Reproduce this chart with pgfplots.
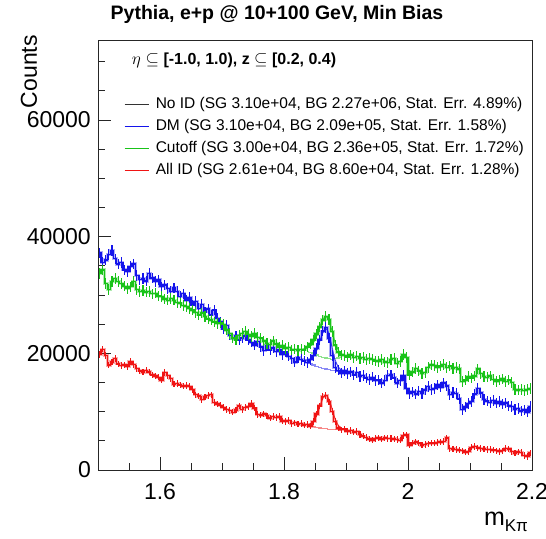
\documentclass[border=0pt]{standalone}
\usepackage{fontspec}
\setmainfont{Liberation Sans}
\usepackage{pgfplots}
\pgfplotsset{compat=1.18}
\usepackage{pgfplotstable}
\definecolor{rblue}{RGB}{20,20,235}
\definecolor{rgreen}{RGB}{25,195,25}
\definecolor{rred}{RGB}{240,20,20}

\pgfplotstableread{
x b g r
1.5025 37200 33700 19800
1.5075 35600 34300 20700
1.5125 36000 32000 19600
1.5175 36900 30900 18000
1.5225 37600 32300 18500
1.5275 36200 32800 19100
1.5325 35300 32300 18200
1.5375 35600 32000 17900
1.5425 34300 31500 18000
1.5475 34000 31100 17700
1.5525 34900 31400 18600
1.5575 35300 32300 18100
1.5625 33300 30900 17400
1.5675 32600 30600 17000
1.5725 32800 30800 16800
1.5775 32400 30500 17100
1.5825 33700 30600 16800
1.5875 32900 30200 16300
1.5925 32300 30300 16100
1.5975 32600 29800 15900
1.6025 31400 29700 15400
1.6075 31700 29300 16700
1.6125 31100 29100 16200
1.6175 30600 29400 15700
1.6225 31200 29100 14700
1.6275 30600 28700 14800
1.6325 29700 28600 14600
1.6375 30200 28200 14400
1.6425 29100 28000 14500
1.6475 29600 27700 14300
1.6525 28300 27400 13800
1.6575 28900 27000 12900
1.6625 27700 26600 12700
1.6675 28400 26900 12100
1.6725 27100 26300 12500
1.6775 27600 25900 12800
1.6825 26600 25700 12900
1.6875 27400 25400 11600
1.6925 26000 25100 11300
1.6975 25400 25200 11100
1.7025 24200 24900 10700
1.7075 24800 24000 10400
1.7125 23100 23400 10200
1.7175 22600 22600 9900
1.7225 23000 22300 10300
1.7275 22300 23100 11000
1.7325 22600 23400 10400
1.7375 23000 23700 10700
1.7425 22300 23200 10900
1.7475 21900 22900 11400
1.7525 21400 23400 10600
1.7575 22000 22700 9500
1.7625 21100 22600 9400
1.7675 20500 22100 9600
1.7725 21300 21700 9300
1.7775 20600 21500 8900
1.7825 20900 22100 9200
1.7875 20300 21600 9000
1.7925 20600 21100 9200
1.7975 19800 21300 8400
1.8025 20200 20800 8300
1.8075 19500 21000 8500
1.8125 19100 20600 8000
1.8175 18500 20700 8100
1.8225 19300 20500 7900
1.8275 18900 20700 8000
1.8325 18700 20600 7700
1.8375 18400 21100 7800
1.8425 18900 21600 7500
1.8475 19600 22300 8300
1.8525 20800 23300 9600
1.8575 22300 24500 11000
1.8625 23800 25700 12600
1.8675 24400 26300 12800
1.8725 22600 25800 11700
1.8775 19600 23700 10000
1.8825 17600 21400 8300
1.8875 17100 20200 7200
1.8925 16600 19700 6900
1.8975 17000 19600 7000
1.9025 16500 19400 6600
1.9075 16800 19700 6800
1.9125 16300 19300 6500
1.9175 16700 19500 6600
1.9225 16000 19100 6100
1.9275 16200 19300 5800
1.9325 15800 18900 5600
1.9375 15500 19100 5300
1.9425 15900 18900 5100
1.9475 15300 18700 5400
1.9525 15400 18600 5500
1.9575 14900 18900 5300
1.9625 15300 18500 5500
1.9675 16200 18400 5400
1.9725 16300 18900 5400
1.9775 15800 19100 5300
1.9825 14900 18300 5200
1.9875 15300 18600 5100
1.9925 16200 19800 5900
1.9975 14000 19300 6000
2.0025 13100 16300 4300
2.0075 13400 16800 4600
2.0125 13000 17400 4800
2.0175 13500 17000 4600
2.0225 13100 16500 4300
2.0275 13700 16700 4400
2.0325 14300 17600 4500
2.0375 13800 18000 4600
2.0425 14000 17900 4600
2.0475 14600 17600 4700
2.0525 14200 17800 4800
2.0575 14900 18100 4900
2.0625 14400 17600 5500
2.0675 12900 17800 3700
2.0725 13300 17400 3600
2.0775 13100 17600 3500
2.0825 12200 17300 3400
2.0875 10400 15200 3300
2.0925 10800 15400 3100
2.0975 11400 16000 3200
2.1025 11700 15800 3900
2.1075 13000 16100 4000
2.1125 14000 17300 3800
2.1175 13200 16500 3700
2.1225 12100 16000 3600
2.1275 11800 15900 3500
2.1325 11600 16100 3500
2.1375 11900 15500 3400
2.1425 11500 15200 3300
2.1475 11700 15400 3200
2.1525 11300 15600 3300
2.1575 11500 15200 3700
2.1625 11000 15400 3600
2.1675 10900 15000 3200
2.1725 10400 13800 2900
2.1775 10500 13700 3100
2.1825 10100 13800 3000
2.1875 10300 13600 2500
2.1925 9900 13800 2300
2.1975 10900 14000 2900
}\histdata

\pgfplotstableread{
x b g r
1.8375 18400 20300 7700
1.8425 18200 20100 7500
1.8475 18000 19900 7400
1.8525 17800 19700 7300
1.8575 17600 19500 7200
1.8625 17400 19300 7100
1.8675 17300 19200 7100
1.8725 17200 19100 7000
1.8775 17100 19000 7000
1.8825 17000 19100 6900
1.8875 16900 19200 6900
1.8925 16700 19300 6800
}\bgdata

\pgfplotstableread{
x b g r
1.830 18800 20700 7900
1.840 18900 21000 7800
1.848 19500 21900 8400
1.854 20800 23300 9700
1.859 22500 24900 11300
1.864 23800 26000 12500
1.868 24200 26300 12800
1.872 23500 25700 12200
1.877 21300 24000 10700
1.882 19000 22000 8900
1.888 17600 20500 7600
1.895 17000 19700 7000
1.905 16700 19400 6700
}\fitdata

\begin{document}
\begin{tikzpicture}
\useasboundingbox (0,0) rectangle (546pt,538pt);
\begin{axis}[
  at={(98pt,68pt)}, anchor=south west,
  scale only axis, width=434pt, height=430pt,
  xmin=1.5, xmax=2.2, ymin=0, ymax=73700,
  axis line style={line width=0.9pt, black!85},
  tick pos=left, tick align=inside,
  xtick={1.6,1.8,2.0,2.2},
  minor xtick={1.55,1.65,1.7,1.75,1.85,1.9,1.95,2.05,2.1,2.15},
  ytick={0,20000,40000,60000},
  minor ytick={5000,10000,15000,25000,30000,35000,45000,50000,55000,65000,70000},
  major tick length=13pt, minor tick length=6.5pt,
  every tick/.style={black!85, line width=0.8pt},
  scaled y ticks=false, scaled x ticks=false,
  /pgf/number format/assume math mode=true,
  /pgf/number format/set thousands separator={},
  tick label style={font=\fontsize{23}{23}\selectfont},
  xticklabel style={inner sep=0pt, yshift=-13pt},
  yticklabel style={inner sep=0pt, xshift=-7pt},
  title={Pythia, e+p @ 10+100 GeV, Min Bias},
  title style={at={(rel axis cs:0.4124,1.0326)}, anchor=base, inner sep=0pt, font=\fontsize{19.5}{20}\selectfont\bfseries},
  ylabel={Counts},
  ylabel style={at={(rel axis cs:-0.1406,1.0116)}, anchor=base east, inner sep=0pt, font=\fontsize{23}{23}\selectfont},
  xlabel={m\raisebox{-6pt}{\fontsize{17}{17}\selectfont Kπ}},
  xlabel style={at={(rel axis cs:0.991,-0.128)}, anchor=base east, inner sep=0pt, font=\fontsize{25}{25}\selectfont},
  legend style={at={(rel axis cs:0.053,0.872)}, anchor=north west, draw=none, fill=none,
    font=\fontsize{15.5}{15.5}\selectfont, row sep=7.5pt,
    nodes={inner sep=0pt, text height=11pt, text depth=3.5pt}},
  legend cell align=left,
  legend image code/.code={\draw[#1, line width=0.8pt] (0pt,0pt) -- (24pt,0pt); \path (31pt,0pt);},
]
% halos
\addplot[rblue, opacity=0.35, line width=3.2pt, const plot mark mid, forget plot] table[x=x,y=b]{\histdata};
\addplot[rgreen, opacity=0.35, line width=3.2pt, const plot mark mid, forget plot] table[x=x,y=g]{\histdata};
\addplot[rred, opacity=0.35, line width=3.2pt, const plot mark mid, forget plot] table[x=x,y=r]{\histdata};
% background under peak
\addplot[rblue, opacity=0.5, line width=1.2pt, const plot mark mid, forget plot] table[x=x,y=b]{\bgdata};
\addplot[rgreen, opacity=0.5, line width=1.2pt, const plot mark mid, forget plot] table[x=x,y=g]{\bgdata};
\addplot[rred, opacity=0.5, line width=1.2pt, const plot mark mid, forget plot] table[x=x,y=r]{\bgdata};
% histograms
\addplot[rblue, line width=1.4pt, const plot mark mid, forget plot,
  error bars/.cd, y dir=both, y fixed=900, error mark=none, error bar style={line width=1.1pt}] table[x=x,y=b]{\histdata};
\addplot[rgreen, line width=1.4pt, const plot mark mid, forget plot,
  error bars/.cd, y dir=both, y fixed=900, error mark=none, error bar style={line width=1.1pt}] table[x=x,y=g]{\histdata};
\addplot[rred, line width=1.4pt, const plot mark mid, forget plot,
  error bars/.cd, y dir=both, y fixed=550, error mark=none, error bar style={line width=1.1pt}] table[x=x,y=r]{\histdata};
% fits
\addplot[rblue, line width=1pt, smooth, opacity=0.8, forget plot] table[x=x,y=b]{\fitdata};
\addplot[rgreen, line width=1pt, smooth, opacity=0.8, forget plot] table[x=x,y=g]{\fitdata};
\addplot[rred, line width=1pt, smooth, opacity=0.8, forget plot] table[x=x,y=r]{\fitdata};

\addlegendimage{black!80}
\addlegendentry{No ID (SG 3.10e+04, BG 2.27e+06, Stat. Err. 4.89\%)}
\addlegendimage{rblue}
\addlegendentry{DM (SG 3.10e+04, BG 2.09e+05, Stat. Err. 1.58\%)}
\addlegendimage{rgreen}
\addlegendentry{Cutoff (SG 3.00e+04, BG 2.36e+05, Stat. Err. 1.72\%)}
\addlegendimage{rred}
\addlegendentry{All ID (SG 2.61e+04, BG 8.60e+04, Stat. Err. 1.28\%)}

\node[anchor=base west, inner sep=0pt, font=\fontsize{16}{16}\selectfont\bfseries] at (rel axis cs:0.0776,0.944) {$\eta\subseteq$ [-1.0, 1.0), z $\subseteq$ [0.2, 0.4)};
\end{axis}
\end{tikzpicture}
\end{document}
